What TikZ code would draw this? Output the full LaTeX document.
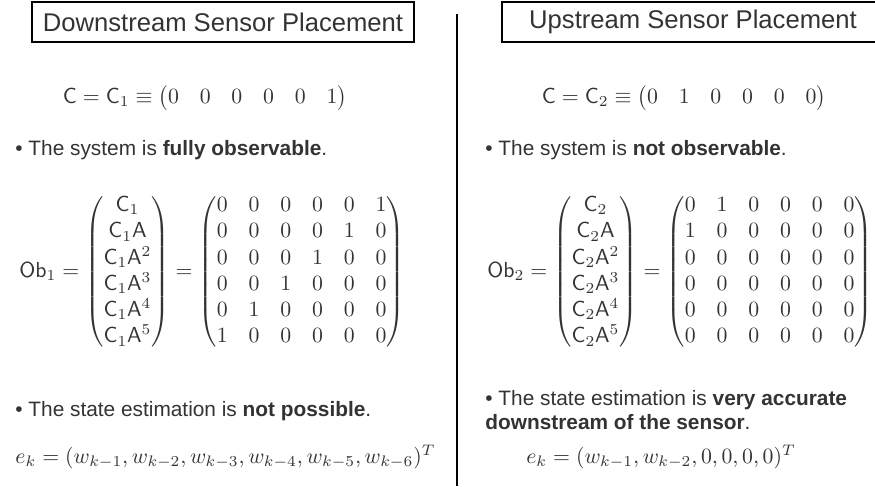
\RequirePackage{fix-cm}
\documentclass[tikz,border=0pt]{standalone}
\usepackage{amsmath}
\usepackage[no-math]{fontspec}
\setmainfont{Liberation Sans}
\usepackage{tikz}
\definecolor{inkgray}{HTML}{333333}

\tikzset{
  titlebox/.style={draw=black, line width=1pt, minimum width=183.4pt,
    minimum height=19.2pt, inner sep=0pt, font=\fontsize{12.3}{15}\selectfont},
  bullettext/.style={anchor=west, inner sep=0pt, align=left,
    font=\fontsize{10}{11.2}\selectfont},
  formula/.style={inner sep=0pt, font=\fontsize{10.45}{12.6}\selectfont},
}

\begin{document}
\begin{tikzpicture}[x=0.48pt, y=-0.48pt, every node/.append style={text=inkgray}]
    \useasboundingbox (0,0) rectangle (875,486);
    % the two headings
    \node[titlebox] (downtitle) at (223,22) {Downstream Sensor Placement};
    \node[titlebox] (uptitle) at (693,22) {Upstream Sensor Placement};
    % divider between the two cases
    \coordinate (divtop) at (457,14); \coordinate (divbot) at (457,486);
    \draw[line width=1pt] (divtop) -- (divbot);

    % downstream case
    \node[formula] (downC) at (205,98)
      {$\mathsf{C}=\mathsf{C}_1\equiv\begin{pmatrix}0&0&0&0&0&1\end{pmatrix}$};
    \node[bullettext] (downobs) at (15,150) {\textbullet{} The system is \textbf{fully observable}.};
    \node[formula] (downOb) at (212,272)
      {$\mathsf{Ob}_1=\begin{pmatrix}\mathsf{C}_1\\ \mathsf{C}_1\mathsf{A}\\ \mathsf{C}_1\mathsf{A}^2\\
        \mathsf{C}_1\mathsf{A}^3\\ \mathsf{C}_1\mathsf{A}^4\\ \mathsf{C}_1\mathsf{A}^5\end{pmatrix}
      =\begin{pmatrix}0&0&0&0&0&1\\0&0&0&0&1&0\\0&0&0&1&0&0\\0&0&1&0&0&0\\0&1&0&0&0&0\\1&0&0&0&0&0\end{pmatrix}$};
    \node[bullettext] (downest) at (15,411) {\textbullet{} The state estimation is \textbf{not possible}.};
    \node[formula, anchor=west] (downerr) at (15,457)
      {$e_k=(w_{k-1},w_{k-2},w_{k-3},w_{k-4},w_{k-5},w_{k-6})^T$};

    % upstream case
    \node[formula] (upC) at (684,98)
      {$\mathsf{C}=\mathsf{C}_2\equiv\begin{pmatrix}0&1&0&0&0&0\end{pmatrix}$};
    \node[bullettext] (upobs) at (485,150) {\textbullet{} The system is \textbf{not observable}.};
    \node[formula] (upOb) at (680,272)
      {$\mathsf{Ob}_2=\begin{pmatrix}\mathsf{C}_2\\ \mathsf{C}_2\mathsf{A}\\ \mathsf{C}_2\mathsf{A}^2\\
        \mathsf{C}_2\mathsf{A}^3\\ \mathsf{C}_2\mathsf{A}^4\\ \mathsf{C}_2\mathsf{A}^5\end{pmatrix}
      =\begin{pmatrix}0&1&0&0&0&0\\1&0&0&0&0&0\\0&0&0&0&0&0\\0&0&0&0&0&0\\0&0&0&0&0&0\\0&0&0&0&0&0\end{pmatrix}$};
    \node[bullettext] (upest) at (485,410) {\textbullet{} The state estimation is \textbf{very accurate}\\
      \textbf{downstream of the sensor}.};
    \node[formula] (uperr) at (661,457) {$e_k=(w_{k-1},w_{k-2},0,0,0,0)^T$};
\end{tikzpicture}
\end{document}
